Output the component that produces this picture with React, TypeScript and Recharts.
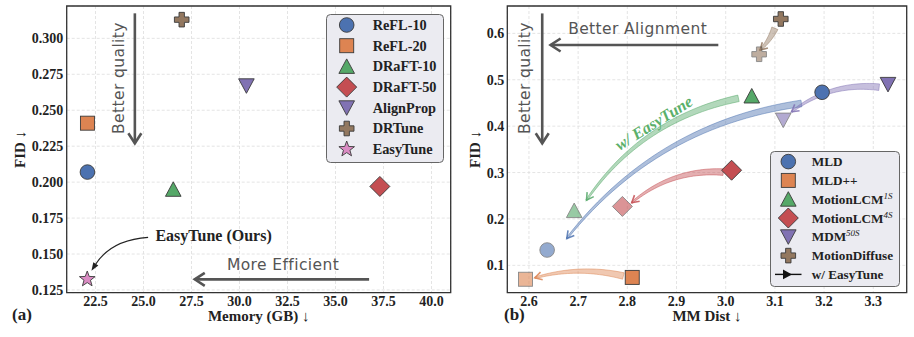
import React from 'react';
import { ScatterChart, Scatter, XAxis, YAxis, CartesianGrid, ReferenceLine, ReferenceArea, ReferenceDot, Legend } from 'recharts';

// ---- (a) memory vs FID ----
const methodsA = ['ReFL-10', 'ReFL-20', 'DRaFT-10', 'DRaFT-50', 'AlignProp', 'DRTune', 'EasyTune'];
const markersA = ['circle', 'square', 'triangle', 'diamond', 'triangleDown', 'plus', 'star'];
const memoryA = [22.08, 22.08, 26.55, 37.31, 30.36, 26.99, 22.07];
const fidA = [0.207, 0.241, 0.195, 0.197, 0.267, 0.313, 0.1325];
const memoryTicks = [22.5, 25, 27.5, 30, 32.5, 35, 37.5, 40];
const fidTicksA = [0.125, 0.15, 0.175, 0.2, 0.225, 0.25, 0.275, 0.3];

// ---- (b) MM Dist vs FID, before / after EasyTune ----
const methodsB = ['MLD', 'MLD++', 'MotionLCM', 'MotionLCM', 'MDM', 'MotionDiffuse'];
const supB = ['', '', '1S', '4S', '50S', ''];
const markersB = ['circle', 'square', 'triangle', 'diamond', 'triangleDown', 'plus'];
const mmBefore = [3.196, 2.81, 3.053, 3.012, 3.33, 3.112];
const fidBefore = [0.473, 0.074, 0.465, 0.305, 0.49, 0.631];
const mmAfter = [2.637, 2.593, 2.692, 2.79, 3.117, 3.068];
const fidAfter = [0.133, 0.07, 0.218, 0.227, 0.413, 0.555];
const arrowFromX = [3.154, 2.792, 3.026, 2.995, 3.312, 3.1];
const arrowFromY = [0.449, 0.077, 0.46, 0.301, 0.484, 0.611];
const arrowToX = [2.677, 2.612, 2.717, 2.809, 3.134, 3.07];
const arrowToY = [0.158, 0.073, 0.2405, 0.235, 0.431, 0.564];
const mmTicks = [2.6, 2.7, 2.8, 2.9, 3.0, 3.1, 3.2, 3.3];
const fidTicksB = [0.1, 0.2, 0.3, 0.4, 0.5, 0.6];

const PAL = {
  blue: '#4C72B0',
  orange: '#DD8452',
  green: '#55A868',
  red: '#C44E52',
  purple: '#8172B3',
  brown: '#937860',
  pink: '#DA8BC3',
};
const colorsA = [PAL.blue, PAL.orange, PAL.green, PAL.red, PAL.purple, PAL.brown, PAL.pink];
const colorsB = [PAL.blue, PAL.orange, PAL.green, PAL.red, PAL.purple, PAL.brown];

const SERIF = '"Liberation Serif", "Times New Roman", serif';
const HAND = '"DejaVu Sans", sans-serif';
const tickStyle = { fontFamily: SERIF, fontWeight: 700, fontSize: 14, fill: '#222' };

const dataA = methodsA.map((name, i) => ({ name, x: memoryA[i], y: fidA[i], i }));
const beforeB = methodsB.map((name, i) => ({ name, x: mmBefore[i], y: fidBefore[i], i }));
const afterB = methodsB.map((name, i) => ({ name, x: mmAfter[i], y: fidAfter[i], i }));

function Marker({ type, cx, cy, fill, alpha = 1 }: any) {
  const st = { fill, stroke: '#3a3a3a', strokeWidth: 0.9, opacity: alpha };
  if (type === 'circle') return <circle cx={cx} cy={cy} r={7.3} {...st} />;
  if (type === 'square') return <rect x={cx - 7} y={cy - 7} width={14} height={14} {...st} />;
  if (type === 'triangle')
    return <polygon points={`${cx},${cy - 7.5} ${cx + 7.8},${cy + 7} ${cx - 7.8},${cy + 7}`} {...st} />;
  if (type === 'triangleDown')
    return <polygon points={`${cx},${cy + 7.5} ${cx + 7.8},${cy - 7} ${cx - 7.8},${cy - 7}`} {...st} />;
  if (type === 'diamond')
    return <polygon points={`${cx},${cy - 10} ${cx + 10},${cy} ${cx},${cy + 10} ${cx - 10},${cy}`} {...st} />;
  if (type === 'plus') {
    const a = 7.3, b = 2.7;
    const pts = [[-b, -a], [b, -a], [b, -b], [a, -b], [a, b], [b, b], [b, a], [-b, a], [-b, b], [-a, b], [-a, -b], [-b, -b]];
    return <polygon points={pts.map(([px, py]) => `${cx + px},${cy + py}`).join(' ')} {...st} />;
  }
  // star
  const pts: string[] = [];
  for (let k = 0; k < 10; k++) {
    const r = k % 2 === 0 ? 8.2 : 3.4;
    const ang = -Math.PI / 2 + (k * Math.PI) / 5;
    pts.push(`${cx + r * Math.cos(ang)},${cy + r * Math.sin(ang)}`);
  }
  return <polygon points={pts.join(' ')} {...st} />;
}

// curved, tapered translucent arrow (EasyTune improvement)
function FatArrow({ x1, y1, x2, y2, color, rad = 0.2 }: any) {
  const dx = x2 - x1, dy = y2 - y1;
  const qx = (x1 + x2) / 2 - rad * dy;
  const qy = (y1 + y2) / 2 + rad * dx;
  const left: number[][] = [];
  const right: number[][] = [];
  const n = 30;
  for (let k = 0; k <= n; k++) {
    const t = k / n;
    const px = (1 - t) * (1 - t) * x1 + 2 * (1 - t) * t * qx + t * t * x2;
    const py = (1 - t) * (1 - t) * y1 + 2 * (1 - t) * t * qy + t * t * y2;
    const tx = 2 * (1 - t) * (qx - x1) + 2 * t * (x2 - qx);
    const ty = 2 * (1 - t) * (qy - y1) + 2 * t * (y2 - qy);
    const len = Math.hypot(tx, ty) || 1;
    const nx = -ty / len, ny = tx / len;
    const w = 3.3 * (1 - t) + 0.8 * t;
    left.push([px + nx * w, py + ny * w]);
    right.push([px - nx * w, py - ny * w]);
  }
  const poly = left.concat(right.reverse()).map((p) => p.join(',')).join(' ');
  const L = Math.hypot(x2 - qx, y2 - qy) || 1;
  const ux = (x2 - qx) / L, uy = (y2 - qy) / L;
  const head = `${x2 - ux * 7 - uy * 4},${y2 - uy * 7 + ux * 4} ${x2},${y2} ${x2 - ux * 7 + uy * 4},${y2 - uy * 7 - ux * 4}`;
  return (
    <g>
      <polygon points={poly} fill={color} fillOpacity={0.45} stroke={color} strokeOpacity={0.7} strokeWidth={0.7} />
      <polyline points={head} fill="none" stroke={color} strokeOpacity={0.85} strokeWidth={1.6} />
    </g>
  );
}

// thin black curved arrow with filled head
function ThinArrow({ x1, y1, x2, y2, rad = 0.25 }: any) {
  const dx = x2 - x1, dy = y2 - y1;
  const qx = (x1 + x2) / 2 - rad * dy;
  const qy = (y1 + y2) / 2 + rad * dx;
  const L = Math.hypot(x2 - qx, y2 - qy) || 1;
  const ux = (x2 - qx) / L, uy = (y2 - qy) / L;
  const bx = x2 - ux * 8, by = y2 - uy * 8;
  return (
    <g>
      <path d={`M${x1},${y1} Q${qx},${qy} ${bx},${by}`} fill="none" stroke="#222" strokeWidth={1.1} />
      <polygon points={`${x2},${y2} ${bx - uy * 3},${by + ux * 3} ${bx + uy * 3},${by - ux * 3}`} fill="#222" />
    </g>
  );
}

// straight gray guide arrow
function GuideArrow({ x1, y1, x2, y2 }: any) {
  const L = Math.hypot(x2 - x1, y2 - y1) || 1;
  const ux = (x2 - x1) / L, uy = (y2 - y1) / L;
  const head = `${x2 - ux * 10 - uy * 6.5},${y2 - uy * 10 + ux * 6.5} ${x2},${y2} ${x2 - ux * 10 + uy * 6.5},${y2 - uy * 10 - ux * 6.5}`;
  return (
    <g>
      <line x1={x1} y1={y1} x2={x2} y2={y2} stroke="#555" strokeWidth={2.6} />
      <polyline points={head} fill="none" stroke="#555" strokeWidth={2.6} />
    </g>
  );
}

const HandText = (text: string, rotate = 0) => (p: any) => (
  <text
    x={p.cx}
    y={p.cy}
    transform={rotate ? `rotate(${rotate}, ${p.cx}, ${p.cy})` : undefined}
    textAnchor="middle"
    dominantBaseline="central"
    fontFamily={HAND}
    fontSize={15.5}
    letterSpacing={0.4}
    fill="#555"
  >
    {text}
  </text>
);

// x title plus the panel letter, both on the same baseline
const xTitle = (text: string, letter: string, letterX: number) => (p: any) => {
  const vb = p.viewBox || { x: 0, y: 0, width: 0, height: 0 };
  return (
    <g>
      <text x={vb.x + vb.width / 2} y={vb.y + 28.5} textAnchor="middle" fontFamily={SERIF} fontWeight={700} fontSize={15} fill="#222">
        {text}
        <tspan fontWeight={400}> ↓</tspan>
      </text>
      <text x={letterX} y={vb.y + 27} fontFamily={SERIF} fontWeight={700} fontSize={17} fill="#222">
        {letter}
      </text>
    </g>
  );
};

const yTitle = (cxPos: number) => (p: any) => {
  const vb = p.viewBox || { x: 0, y: 0, width: 0, height: 0 };
  const cy = vb.y + vb.height / 2;
  return (
    <text x={cxPos} y={cy} transform={`rotate(-90, ${cxPos}, ${cy})`} textAnchor="middle" dominantBaseline="central" fontFamily={SERIF} fontWeight={700} fontSize={15} fill="#222">
      FID
      <tspan fontWeight={400}> ↓</tspan>
    </text>
  );
};

const LegendA = () => (
  <svg width={118} height={149} style={{ display: 'block' }}>
    <rect x={0.5} y={0.5} width={117} height={148} rx={4} fill="#ebebf1" stroke="#666" strokeWidth={1} />
    {methodsA.map((m, i) => (
      <g key={m}>
        <Marker type={markersA[i]} cx={20.7} cy={11 + i * 20.7} fill={colorsA[i]} />
        <text x={46.7} y={11 + i * 20.7 + 4.8} fontFamily={SERIF} fontWeight={700} fontSize={14.3} fill="#222">
          {m}
        </text>
      </g>
    ))}
  </svg>
);

const LegendB = () => (
  <svg width={130} height={136} style={{ display: 'block' }}>
    <rect x={0.5} y={0.5} width={129} height={135} rx={4} fill="#ebebf1" stroke="#666" strokeWidth={1} />
    {methodsB.map((m, i) => (
      <g key={i}>
        <Marker type={markersB[i]} cx={18.3} cy={10.6 + i * 18.8} fill={colorsB[i]} />
        <text x={41.7} y={10.6 + i * 18.8 + 4.5} fontFamily={SERIF} fontWeight={700} fontSize={13.2} fill="#222">
          {m}
          {supB[i] && (
            <tspan dy={-5} fontSize={9} fontStyle="italic" fontWeight={400}>
              {supB[i]}
            </tspan>
          )}
        </text>
      </g>
    ))}
    <g>
      <line x1={5} y1={10.6 + 6 * 18.8} x2={31.5} y2={10.6 + 6 * 18.8} stroke="#111" strokeWidth={1.4} />
      <polygon
        points={`${13},${10.6 + 6 * 18.8 - 4.8} ${22},${10.6 + 6 * 18.8} ${13},${10.6 + 6 * 18.8 + 4.8}`}
        fill="#111"
      />
      <text x={41.7} y={10.6 + 6 * 18.8 + 4.5} fontFamily={SERIF} fontWeight={700} fontSize={13.2} fill="#222">
        w/ EasyTune
      </text>
    </g>
  </svg>
);

export default function App() {
  const xDomA: [number, number] = [21, 41];
  const yDomA: [number, number] = [0.1231, 0.3225];
  const xDomB: [number, number] = [2.556, 3.368];
  const yDomB: [number, number] = [0.041, 0.659];

  return (
    <div style={{ position: 'absolute', left: 0, top: 0, width: 914, height: 337, background: '#fff', overflow: 'hidden' }}>
      {/* (a) */}
      <div style={{ position: 'absolute', left: 0, top: 0 }}>
        <ScatterChart width={460} height={337} margin={{ top: 6, right: 9.3, bottom: 0, left: 0 }}>
          <CartesianGrid strokeDasharray="3 2" stroke="#dddddd" strokeWidth={0.8} />
          <XAxis
            type="number"
            dataKey="x"
            domain={xDomA}
            ticks={memoryTicks}
            interval={0}
            allowDataOverflow
            height={44.3}
            tickLine={false}
            axisLine={false}
            tickSize={0}
            tickMargin={3.1}
            tick={tickStyle}
            tickFormatter={(v: number) => v.toFixed(1)}
            label={{ content: xTitle('Memory (GB)', '(a)', 12) }}
          />
          <YAxis
            type="number"
            dataKey="y"
            domain={yDomA}
            ticks={fidTicksA}
            interval={0}
            allowDataOverflow
            width={66.7}
            tickLine={false}
            axisLine={false}
            tickSize={0}
            tickMargin={3.4}
            tick={tickStyle}
            tickFormatter={(v: number) => v.toFixed(3)}
            label={{ content: yTitle(20) }}
          />
          <ReferenceArea x1={xDomA[0]} x2={xDomA[1]} y1={yDomA[0]} y2={yDomA[1]} fill="none" stroke="#333" strokeWidth={1.3} ifOverflow="visible" />
          <ReferenceLine segment={[{ x: 24.55, y: 0.3174 }, { x: 24.55, y: 0.227 }]} ifOverflow="visible" shape={(p: any) => <GuideArrow {...p} />} />
          <ReferenceLine segment={[{ x: 36.75, y: 0.1324 }, { x: 27.67, y: 0.1324 }]} ifOverflow="visible" shape={(p: any) => <GuideArrow {...p} />} />
          <ReferenceLine segment={[{ x: 25.24, y: 0.1616 }, { x: 22.29, y: 0.1384 }]} ifOverflow="visible" shape={(p: any) => <ThinArrow {...p} rad={0.25} />} />
          <ReferenceDot x={23.71} y={0.2724} r={0} ifOverflow="visible" shape={HandText('Better quality', -90)} />
          <ReferenceDot x={32.27} y={0.1424} r={0} ifOverflow="visible" shape={HandText('More Efficient')} />
          <ReferenceDot
            x={25.62}
            y={0.1627}
            r={0}
            ifOverflow="visible"
            shape={(p: any) => (
              <text x={p.cx} y={p.cy} dominantBaseline="central" fontFamily={SERIF} fontWeight={700} fontSize={16} fill="#222">
                EasyTune (Ours)
              </text>
            )}
          />
          <Scatter
            data={dataA}
            isAnimationActive={false}
            shape={(p: any) => <Marker type={markersA[p.payload.i]} cx={p.cx} cy={p.cy} fill={colorsA[p.payload.i]} />}
          />
          <Legend layout="vertical" align="center" verticalAlign="middle" content={LegendA} wrapperStyle={{ left: 326, top: 14, width: 118 }} />
        </ScatterChart>
      </div>

      {/* (b) */}
      <div style={{ position: 'absolute', left: 460, top: 0 }}>
        <ScatterChart width={454} height={337} margin={{ top: 6, right: 7.3, bottom: 0, left: 0 }}>
          <CartesianGrid strokeDasharray="3 2" stroke="#dddddd" strokeWidth={0.8} />
          <XAxis
            type="number"
            dataKey="x"
            domain={xDomB}
            ticks={mmTicks}
            interval={0}
            allowDataOverflow
            height={44.3}
            tickLine={false}
            axisLine={false}
            tickSize={0}
            tickMargin={3.1}
            tick={tickStyle}
            tickFormatter={(v: number) => v.toFixed(1)}
            label={{ content: xTitle('MM Dist', '(b)', 44) }}
          />
          <YAxis
            type="number"
            dataKey="y"
            domain={yDomB}
            ticks={fidTicksB}
            interval={0}
            allowDataOverflow
            width={47.3}
            tickLine={false}
            axisLine={false}
            tickSize={0}
            tickMargin={3}
            tick={tickStyle}
            tickFormatter={(v: number) => v.toFixed(1)}
            label={{ content: yTitle(15) }}
          />
          <ReferenceArea x1={xDomB[0]} x2={xDomB[1]} y1={yDomB[0]} y2={yDomB[1]} fill="none" stroke="#333" strokeWidth={1.3} ifOverflow="visible" />
          <ReferenceLine segment={[{ x: 2.627, y: 0.643 }, { x: 2.627, y: 0.363 }]} ifOverflow="visible" shape={(p: any) => <GuideArrow {...p} />} />
          <ReferenceLine segment={[{ x: 2.985, y: 0.575 }, { x: 2.644, y: 0.575 }]} ifOverflow="visible" shape={(p: any) => <GuideArrow {...p} />} />
          <ReferenceDot x={2.592} y={0.5037} r={0} ifOverflow="visible" shape={HandText('Better quality', -90)} />
          <ReferenceDot x={2.821} y={0.6086} r={0} ifOverflow="visible" shape={HandText('Better Alignment')} />
          {methodsB.map((m, i) => (
            <ReferenceLine
              key={`arrow-${i}`}
              segment={[{ x: arrowFromX[i], y: arrowFromY[i] }, { x: arrowToX[i], y: arrowToY[i] }]}
              ifOverflow="visible"
              shape={(p: any) => <FatArrow {...p} color={colorsB[i]} rad={i === 5 ? -0.1 : i === 1 ? 0.13 : 0.2} />}
            />
          ))}
          <ReferenceDot
            x={2.854}
            y={0.4067}
            r={0}
            ifOverflow="visible"
            shape={(p: any) => (
              <text
                x={p.cx}
                y={p.cy}
                transform={`rotate(-32, ${p.cx}, ${p.cy})`}
                textAnchor="middle"
                dominantBaseline="central"
                fontFamily={SERIF}
                fontWeight={700}
                fontStyle="italic"
                fontSize={16.5}
                fill="#5bb06a"
              >
                w/ EasyTune
              </text>
            )}
          />
          <Scatter
            data={afterB}
            isAnimationActive={false}
            shape={(p: any) => <Marker type={markersB[p.payload.i]} cx={p.cx} cy={p.cy} fill={colorsB[p.payload.i]} alpha={0.6} />}
          />
          <Scatter
            data={beforeB}
            isAnimationActive={false}
            shape={(p: any) => <Marker type={markersB[p.payload.i]} cx={p.cx} cy={p.cy} fill={colorsB[p.payload.i]} />}
          />
          <Legend layout="vertical" align="center" verticalAlign="middle" content={LegendB} wrapperStyle={{ left: 310, top: 150.7, width: 130 }} />
        </ScatterChart>
      </div>
    </div>
  );
}
